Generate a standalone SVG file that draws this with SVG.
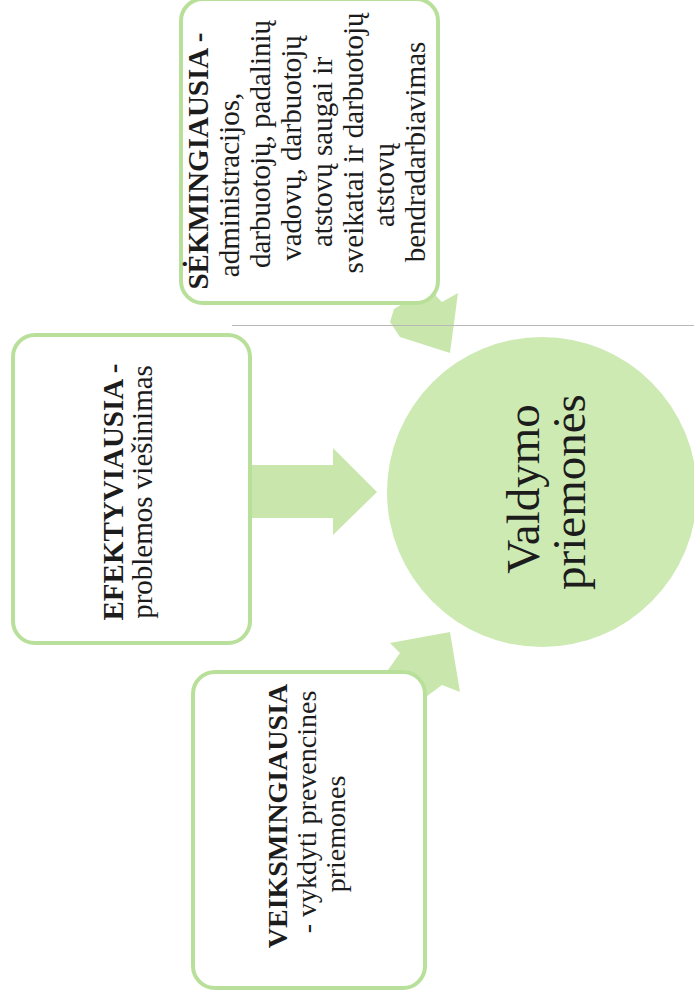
<svg xmlns="http://www.w3.org/2000/svg" width="694" height="1000" viewBox="0 0 694 1000">
<style>
.box{fill:#ffffff;stroke:#b9e09a;stroke-width:4}
.arrow{fill:#c9e7ad}
.t{font-family:"Liberation Serif","Times New Roman",serif;fill:#1c1c1c;text-anchor:middle}
.b{font-weight:bold}
.crease{stroke:#b8b8b8;stroke-width:1}
</style>
<rect width="694" height="1000" fill="#ffffff"/>
<g id="connectors">
  <polygon class="arrow" points="410,255 436,255 436,296 442,302 458,293 450,353 400,337 390,322 394,309 404,303 410,290"/>
  <polygon class="arrow" points="248,465 333,465 333,448 377,492 333,535 333,518 248,518"/>
  <polygon class="arrow" points="371,694 400,653 390,643 450,632 460,692 442,685 415,705"/>
</g>
<line class="crease" x1="232" y1="325.5" x2="694" y2="325.5"/>
<g id="node-sekmingiausia">
  <rect class="box" x="181" y="-1" width="257" height="304" rx="22"/>
  <text class="t b" font-size="29" transform="translate(208,161) rotate(-90)">SĖKMINGIAUSIA -</text>
  <text class="t" font-size="29" transform="translate(239,185) rotate(-90)">administracijos,</text>
  <text class="t" font-size="29" transform="translate(270,144) rotate(-90)">darbuotojų, padalinių</text>
  <text class="t" font-size="29" transform="translate(301,148) rotate(-90)">vadovų, darbuotojų</text>
  <text class="t" font-size="29" transform="translate(332,152) rotate(-90)">atstovų saugai ir</text>
  <text class="t" font-size="29" transform="translate(363,143) rotate(-90)">sveikatai ir darbuotojų</text>
  <text class="t" font-size="29" transform="translate(394,185) rotate(-90)">atstovų</text>
  <text class="t" font-size="29" transform="translate(425,152) rotate(-90)">bendradarbiavimas</text>
</g>
<g id="node-efektyviausia">
  <rect class="box" x="13" y="335" width="237" height="308" rx="22"/>
  <text class="t b" font-size="29" transform="translate(123,492) rotate(-90)">EFEKTYVIAUSIA -</text>
  <text class="t" font-size="29" transform="translate(152,492) rotate(-90)">problemos viešinimas</text>
</g>
<g id="node-veiksmingiausia">
  <rect class="box" x="193" y="672" width="232" height="316" rx="22"/>
  <text class="t b" font-size="28" transform="translate(287,816) rotate(-90)">VEIKSMINGIAUSIA</text>
  <text class="t" font-size="28" transform="translate(316,812) rotate(-90)">- vykdyti prevencines</text>
  <text class="t" font-size="28" transform="translate(345,834) rotate(-90)">priemones</text>
</g>
<g id="node-valdymo">
  <circle cx="542" cy="492" r="155" fill="#cdeab3"/>
  <text class="t" font-size="47" transform="translate(539,489) rotate(-90)">Valdymo</text>
  <text class="t" font-size="47" transform="translate(585,492) rotate(-90)">priemonės</text>
</g>
</svg>
